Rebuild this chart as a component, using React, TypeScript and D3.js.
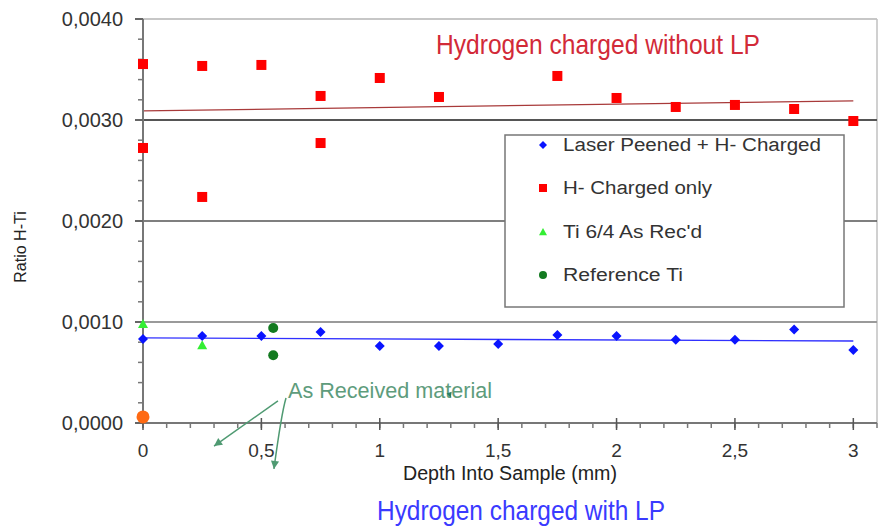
import React from "react";
import * as d3 from "d3";

const W = 883;
const H = 528;

// Laser Peened + H- Charged
const lpDepth = [0, 0.25, 0.5, 0.75, 1, 1.25, 1.5, 1.75, 2, 2.25, 2.5, 2.75, 3];
const lpValues = [0.000832, 0.000861, 0.000861, 0.000901, 0.000762, 0.000762, 0.000782, 0.000871, 0.000861, 0.000825, 0.000825, 0.000925, 0.000723];
// H- Charged only
const hDepth = [0, 0, 0.25, 0.25, 0.5, 0.75, 0.75, 1, 1.25, 1.75, 2, 2.25, 2.5, 2.75, 3];
const hValues = [0.003554, 0.002723, 0.003535, 0.002238, 0.003545, 0.003238, 0.002772, 0.003416, 0.003228, 0.003436, 0.003218, 0.003129, 0.003149, 0.003109, 0.00299];
// Ti 6/4 As Rec'd
const tiDepth = [0, 0.25];
const tiValues = [0.00098, 0.00077];
// Reference Ti
const refDepth = [0.55, 0.55];
const refValues = [0.00094, 0.00067];
// extra orange point
const orangeDepth = [0];
const orangeValues = [0.00006];
// trend lines
const trendDepth = [0, 3];
const hTrend = [0.00309, 0.00319];
const lpTrend = [0.000842, 0.000812];

const yTicks = [0, 0.001, 0.002, 0.003, 0.004];
const yTickLabels = ["0,0000", "0,0010", "0,0020", "0,0030", "0,0040"];
const xTicks = [0, 0.5, 1, 1.5, 2, 2.5, 3];
const xTickLabels = ["0", "0,5", "1", "1,5", "2", "2,5", "3"];

const legendLabels = ["Laser Peened + H- Charged", "H- Charged only", "Ti 6/4 As Rec'd", "Reference Ti"];
const legendWidths = [258, 149, 139, 120];

export default function App() {
  const x = d3.scaleLinear().domain([0, 3.1]).range([143, 877]);
  const y = d3.scaleLinear().domain([0, 0.004]).range([423, 19]);

  const minorY = d3.range(0, 41).map((i) => i * 0.0001).filter((_, i) => i % 2 === 0);
  const minorX = d3.range(0, 32).map((i) => i * 0.1);

  const line = d3
    .line<[number, number]>()
    .x((d) => x(d[0]))
    .y((d) => y(d[1]));

  const diamond = (cx: number, cy: number, r: number) =>
    `M${cx},${cy - r}L${cx + r},${cy}L${cx},${cy + r}L${cx - r},${cy}Z`;
  const tri = (cx: number, cy: number, r: number) =>
    `M${cx},${cy - r}L${cx + r},${cy + r * 0.8}L${cx - r},${cy + r * 0.8}Z`;

  const gridColor = (v: number) => (v === 0.003 ? "#555" : v === 0.002 ? "#555" : v === 0.001 ? "#9a9a9a" : "#b5b5b5");
  const gridWidth = (v: number) => (v === 0.003 ? 2 : v === 0.002 ? 1.5 : v === 0.001 ? 2 : 1.5);

  // annotation arrows (data coordinates)
  const arrow1 = [[0.57, 0.000218], [0.3, -0.000228]] as [number, number][];
  const arrow2Start: [number, number] = [0.604, 0.000248];
  const arrow2Ctrl: [number, number] = [0.585, 0.0001];
  const arrow2End: [number, number] = [0.553, -0.000455];

  const arrowHead = (x1: number, y1: number, x2: number, y2: number, size: number) => {
    const ang = Math.atan2(y2 - y1, x2 - x1);
    const a1 = ang + Math.PI * 0.85;
    const a2 = ang - Math.PI * 0.85;
    return `M${x2},${y2}L${x2 + size * Math.cos(a1)},${y2 + size * Math.sin(a1)}L${x2 + size * Math.cos(a2)},${y2 + size * Math.sin(a2)}Z`;
  };

  const a1x1 = x(arrow1[0][0]), a1y1 = y(arrow1[0][1]);
  const a1x2 = x(arrow1[1][0]), a1y2 = y(arrow1[1][1]);
  const a2x1 = x(arrow2Start[0]), a2y1 = y(arrow2Start[1]);
  const a2cx = x(arrow2Ctrl[0]), a2cy = y(arrow2Ctrl[1]);
  const a2x2 = x(arrow2End[0]), a2y2 = y(arrow2End[1]);

  const legendX = 505, legendY = 135, legendW = 339, legendH = 172;
  const legendRows = [145, 188, 232, 275];

  const font = "Liberation Sans, Arial, sans-serif";

  return (
    <svg
      width={W}
      height={H}
      style={{ position: "absolute", left: 0, top: 0, background: "#fff" }}
      fontFamily={font}
    >
      <rect x={0} y={0} width={W} height={H} fill="#fff" />
      {/* plot border top/right */}
      <line x1={x(0)} x2={x(3.1)} y1={y(0.004)} y2={y(0.004)} stroke="#b5b5b5" strokeWidth={1.5} />
      <line x1={x(3.1)} x2={x(3.1)} y1={y(0.004)} y2={y(0)} stroke="#c0c0c0" strokeWidth={1.5} />
      {/* grid */}
      {yTicks.slice(1, 4).map((v) => (
        <line key={v} x1={x(0)} x2={x(3.1)} y1={y(v)} y2={y(v)} stroke={gridColor(v)} strokeWidth={gridWidth(v)} />
      ))}

      {/* trend lines */}
      <path d={line(trendDepth.map((d, i) => [d, hTrend[i]]) as any) || ""} stroke="#a83a3a" strokeWidth={1.3} fill="none" />
      <path d={line(trendDepth.map((d, i) => [d, lpTrend[i]]) as any) || ""} stroke="#3030ff" strokeWidth={1.3} fill="none" />

      {/* axes */}
      <line x1={x(0)} x2={x(0)} y1={y(0.004)} y2={y(0)} stroke="#777" strokeWidth={2} />
      <line x1={x(0)} x2={x(3.1)} y1={y(0)} y2={y(0)} stroke="#777" strokeWidth={2} />
      {minorY.map((v) => (
        <line key={"my" + v} x1={x(0) - 5} x2={x(0)} y1={y(v)} y2={y(v)} stroke="#777" strokeWidth={1.5} />
      ))}
      {yTicks.map((v) => (
        <line key={"My" + v} x1={x(0) - 8} x2={x(0)} y1={y(v)} y2={y(v)} stroke="#666" strokeWidth={2} />
      ))}
      {minorX.map((v) => (
        <line key={"mx" + v} x1={x(v)} x2={x(v)} y1={y(0)} y2={y(0) + 5} stroke="#777" strokeWidth={1.5} />
      ))}
      {xTicks.map((v) => (
        <line key={"Mx" + v} x1={x(v)} x2={x(v)} y1={y(0) - 5} y2={y(0) + 7} stroke="#555" strokeWidth={1.5} />
      ))}

      {/* tick labels */}
      {yTicks.map((v, i) => (
        <text key={"yl" + v} x={123} y={y(v) + 7} textAnchor="end" fontSize={20} fill="#333">
          {yTickLabels[i]}
        </text>
      ))}
      {xTicks.map((v, i) => (
        <text key={"xl" + v} x={x(v)} y={457} textAnchor="middle" fontSize={19} fill="#333">
          {xTickLabels[i]}
        </text>
      ))}

      {/* axis titles */}
      <text x={403} y={480} fontSize={20} fill="#222" textLength={214} lengthAdjust="spacingAndGlyphs">
        Depth Into Sample (mm)
      </text>
      <text
        transform="translate(26,247) rotate(-90)"
        textAnchor="middle"
        fontSize={16}
        fill="#222"
      >
        Ratio H-Ti
      </text>

      {/* titles */}
      <text x={436} y={54} fontSize={28} fill="#d22a38" textLength={324} lengthAdjust="spacingAndGlyphs">
        Hydrogen charged without LP
      </text>
      <text x={377} y={520} fontSize={28} fill="#3a3aff" textLength={288} lengthAdjust="spacingAndGlyphs">
        Hydrogen charged with LP
      </text>

      {/* points: H- charged only */}
      {hDepth.map((d, i) => (
        <rect key={"h" + i} x={x(d) - 5} y={y(hValues[i]) - 5} width={10} height={10} fill="#ff0000" />
      ))}
      {/* Laser peened */}
      {lpDepth.map((d, i) => (
        <path key={"lp" + i} d={diamond(x(d), y(lpValues[i]), 5)} fill="#0a14ff" />
      ))}
      {/* Ti 6/4 */}
      {tiDepth.map((d, i) => (
        <path key={"ti" + i} d={tri(x(d), y(tiValues[i]), 5)} fill="#33ee33" />
      ))}
      {/* Reference Ti */}
      {refDepth.map((d, i) => (
        <circle key={"ref" + i} cx={x(d)} cy={y(refValues[i])} r={5} fill="#137a20" />
      ))}
      {orangeDepth.map((d, i) => (
        <circle key={"or" + i} cx={x(d)} cy={y(orangeValues[i])} r={6.5} fill="#ff6a13" />
      ))}

      {/* annotation */}
      <text x={288} y={398} fontSize={22} fill="#5e9c7c" textLength={204} lengthAdjust="spacingAndGlyphs">
        As Received material
      </text>
      <line x1={a1x1} y1={a1y1} x2={a1x2} y2={a1y2} stroke="#4f9a72" strokeWidth={1.5} />
      <path d={arrowHead(a1x1, a1y1, a1x2, a1y2, 9)} fill="#4f9a72" />
      <path d={`M${a2x1},${a2y1}Q${a2cx},${a2cy} ${a2x2},${a2y2}`} stroke="#4f9a72" strokeWidth={1.5} fill="none" />
      <path d={arrowHead(a2cx, a2cy, a2x2, a2y2, 9)} fill="#4f9a72" />
      <path d={arrowHead(x(1.3) - 2, y(0.00025) - 6, x(1.3), y(0.00025), 6)} fill="#2a7f64" />

      {/* legend */}
      <rect x={legendX} y={legendY} width={legendW} height={legendH} fill="#fff" stroke="#777" strokeWidth={1.5} />
      <path d={diamond(543, legendRows[0], 4)} fill="#0a14ff" />
      <rect x={539} y={legendRows[1] - 4} width={8} height={8} fill="#ff0000" />
      <path d={tri(543, legendRows[2], 4)} fill="#33ee33" />
      <circle cx={543} cy={legendRows[3]} r={4} fill="#137a20" />
      {legendLabels.map((l, i) => (
        <text key={l} x={563} y={legendRows[i] + 6} fontSize={18} fill="#333" textLength={legendWidths[i]} lengthAdjust="spacingAndGlyphs">
          {l}
        </text>
      ))}
    </svg>
  );
}
